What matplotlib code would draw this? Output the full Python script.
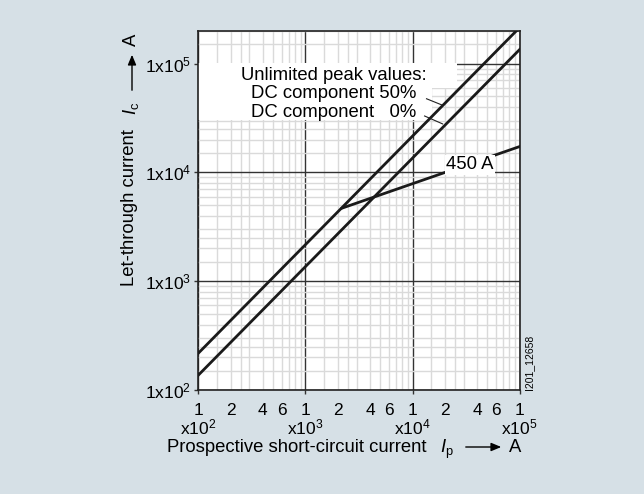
import matplotlib
matplotlib.use("Agg")
import matplotlib.pyplot as plt
import numpy as np

plt.rcParams.update({
    "font.family": ["Liberation Sans", "DejaVu Sans"],
    "font.size": 13,
    "mathtext.fontset": "custom",
    "mathtext.rm": "Liberation Sans",
    "mathtext.it": "Liberation Sans:italic",
})

# ------------------------------------------------------------
# data
# ------------------------------------------------------------
ip_dc50 = [100, 1e5]            # prospective current, A
ic_dc50 = [218, 2.15e5]         # unlimited peak, DC component 50 %
ip_dc0 = [100, 1e5]
ic_dc0 = [137, 1.35e5]          # unlimited peak, DC component 0 %
ip_450 = [2.2e3, 1e5]
ic_450 = [4.7e3, 1.73e4]        # 450 A fuse let-through

x_decades = [1e2, 1e3, 1e4, 1e5]
x_exps = [2, 3, 4, 5]
y_decades = [1e2, 1e3, 1e4, 1e5]
grid_mult = [1.5, 2, 2.5, 3, 4, 5, 6, 7, 8, 9]
x_minor_labels = {2: "2", 4: "4", 6: "6"}

BG = "#d6e0e6"
FS = 13.3

fig = plt.figure(figsize=(6.44, 4.94), dpi=100, facecolor=BG)
ax = fig.add_axes([0.308, 0.2105, 0.499, 0.727])
ax.set_xscale("log")
ax.set_yscale("log")
ax.set_xlim(1e2, 1e5)
ax.set_ylim(1e2, 2e5)
ax.set_facecolor("white")
ax.set_axisbelow(True)

# ticks / grid
x_minor = [d * m for d in x_decades[:-1] for m in grid_mult]
y_minor = [d * m for d in y_decades for m in grid_mult if d * m <= 2e5]
ax.set_xticks(x_decades)
ax.set_xticklabels(["1"] * len(x_decades))
ax.set_xticks(x_minor, minor=True)
ax.set_xticklabels([x_minor_labels.get(m, "") for d in x_decades[:-1] for m in grid_mult],
                   minor=True)
ax.set_yticks(y_decades)
ax.set_yticklabels([rf"1x10$^{{{e}}}$" for e in x_exps])
ax.set_yticks(y_minor, minor=True)
ax.set_yticklabels([], minor=True)

ax.tick_params(which="major", direction="out", length=3, width=1, pad=6,
               labelsize=12.5, color="#333333")
ax.tick_params(axis="y", which="major", pad=2)
ax.tick_params(which="minor", length=0, pad=9, labelsize=12.5)
ax.grid(which="minor", color="#dadada", linewidth=1)
ax.grid(which="major", color="#333333", linewidth=1)
for sp in ax.spines.values():
    sp.set_color("#222222")
    sp.set_linewidth(1.2)

# second row of x labels
for d, e in zip(x_decades, x_exps):
    ax.text(d, -0.103, rf"x10$^{{{e}}}$", transform=ax.get_xaxis_transform(),
            ha="center", va="center", fontsize=12.5)

# curves
ax.plot(ip_dc50, ic_dc50, color="#1a1a1a", lw=2, zorder=4)
ax.plot(ip_dc0, ic_dc0, color="#1a1a1a", lw=2, zorder=4)
ax.plot(ip_450, ic_450, color="#1a1a1a", lw=2, zorder=4)
ax.text(3.45e4, 1.18e4, "450 A", ha="center", va="center", fontsize=FS, zorder=5,
        bbox=dict(facecolor="white", edgecolor="none", pad=1))

# legend box
ax.add_patch(plt.Rectangle((0, 0.752), 0.726, 0.159, transform=ax.transAxes,
                           facecolor="white", edgecolor="none", zorder=2))
ax.add_patch(plt.Rectangle((0, 0.841), 0.806, 0.07, transform=ax.transAxes,
                           facecolor="white", edgecolor="none", zorder=2))
ax.text(0.710, 0.875, "Unlimited peak values:", transform=ax.transAxes,
        ha="right", va="center", fontsize=FS, zorder=3)
ax.text(0.679, 0.825, "DC component 50%", transform=ax.transAxes,
        ha="right", va="center", fontsize=FS, zorder=3)
ax.text(0.679, 0.772, "DC component   0%", transform=ax.transAxes,
        ha="right", va="center", fontsize=FS, zorder=3)
ax.plot([0.710, 0.757], [0.811, 0.794], transform=ax.transAxes,
        color="#222222", lw=0.8, zorder=3)
ax.plot([0.704, 0.760], [0.763, 0.741], transform=ax.transAxes,
        color="#222222", lw=0.8, zorder=3)

# axis labels
W, H = 644, 494


def fx(px):
    return px / W


def fy(py):
    return 1 - py / H


fig.text(fx(130), fy(286), "Let-through current", rotation=90,
         ha="center", va="bottom", fontsize=FS)
fig.text(fx(131), fy(108), r"$I_{\mathrm{c}}$", rotation=90,
         ha="center", va="center", fontsize=FS)
fig.add_artist(matplotlib.patches.FancyArrowPatch(
    (fx(132), fy(93)), (fx(132), fy(52)), transform=fig.transFigure,
    arrowstyle="-|>,head_length=6,head_width=2.5", color="black", lw=1))
fig.text(fx(131), fy(40), "A", rotation=90, ha="center", va="center", fontsize=FS)

fig.text(fx(167), fy(447), "Prospective short-circuit current",
         ha="left", va="center", fontsize=FS)
fig.text(fx(447), fy(449), r"$I_{\mathrm{p}}$", ha="center", va="center", fontsize=FS)
fig.add_artist(matplotlib.patches.FancyArrowPatch(
    (fx(463), fy(447)), (fx(504), fy(447)), transform=fig.transFigure,
    arrowstyle="-|>,head_length=6,head_width=2.5", color="black", lw=1))
fig.text(fx(515), fy(447), "A", ha="center", va="center", fontsize=FS)

fig.text(fx(529), fy(362), "I201_12658", rotation=90, ha="center", va="center",
         fontsize=7.5)

fig.savefig("out.png", dpi=100, facecolor=BG)
